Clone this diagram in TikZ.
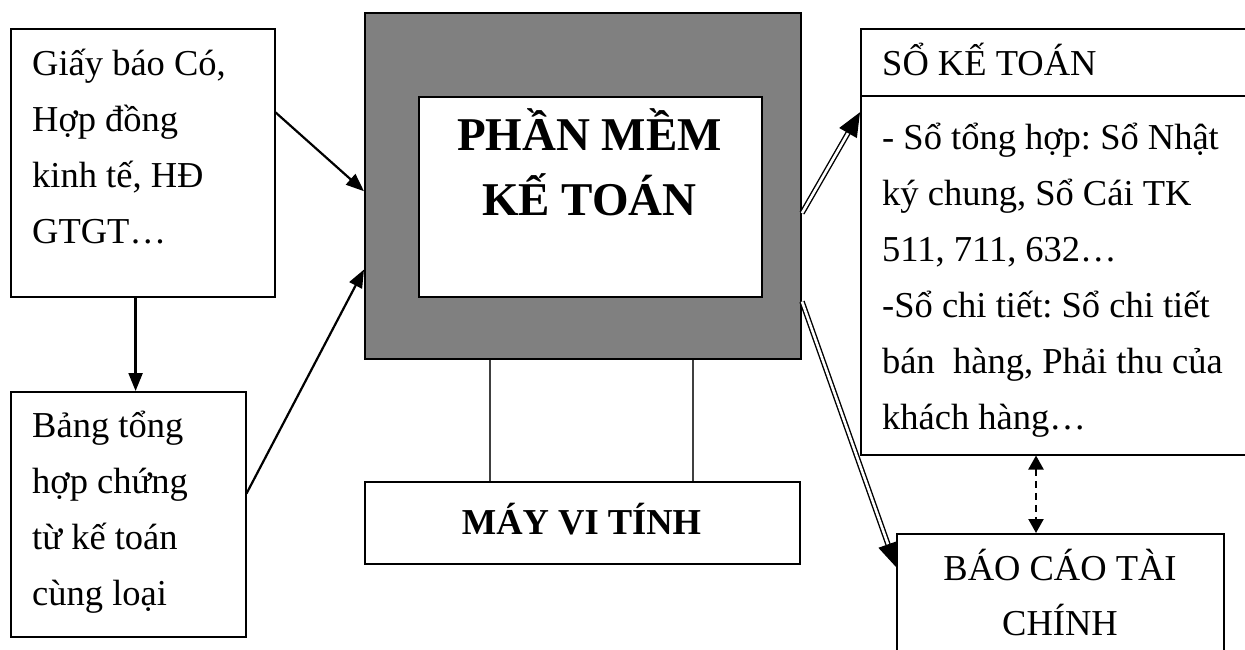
\documentclass[tikz,border=0pt]{standalone}
\usepackage{fontspec}
\setmainfont{Liberation Serif}
\usetikzlibrary{arrows.meta,calc}
\definecolor{boxgray}{HTML}{808080}
\definecolor{linegray}{HTML}{404040}
\frenchspacing
\begin{document}
\begin{tikzpicture}[x=1pt,y=-1pt,
  box/.style={draw=black,line width=1.5pt,rectangle,inner sep=0pt,anchor=north west},
  body/.style={font=\fontsize{36.5}{56}\selectfont,align=left,inner sep=0pt,anchor=base west},
  ctext/.style={font=\fontsize{36.5}{55}\selectfont,align=center,inner sep=0pt,anchor=base},
  arr/.style={line width=2.2pt,-{Triangle[length=18pt,width=14pt]}},
  dbl/.style={line width=1.4pt,double,double distance=2.6pt,-{Triangle[length=24pt,width=20pt]}},
  dasharr/.style={line width=2.2pt,dash pattern=on 7pt off 5pt,{Triangle[length=14pt,width=15pt]}-{Triangle[length=14pt,width=15pt]}},
  conn/.style={draw=linegray,line width=1.2pt},
]
\useasboundingbox (0,0) rectangle (1245,649);
\fill[white] (0,0) rectangle (1245,649);
\begin{scope}
\clip (0,0) rectangle (1245,649);
% left boxes
\node[box,minimum width=264pt,minimum height=268pt] (boxA) at (10,28) {};
\node[body] (textA) at (32,243) {Giấy báo Có,\\Hợp đồng\\kinh tế, HĐ\\GTGT…};
\node[box,minimum width=235pt,minimum height=245pt] (boxB) at (10,391) {};
\node[body] (textB) at (32,605) {Bảng tổng\\hợp chứng\\từ kế toán\\cùng loại};
% central software box
\node[box,fill=boxgray,line width=2pt,minimum width=436pt,minimum height=346pt] (gray) at (364,12) {};
\node[box,fill=white,line width=2pt,minimum width=343pt,minimum height=200pt] (soft) at (418,96) {};
\node[font=\bfseries\fontsize{47}{65}\selectfont,align=center,inner sep=0pt,anchor=base] (title) at (589.5,215) {PHẦN MỀM\\KẾ TOÁN};
% computer box
\node[box,minimum width=435pt,minimum height=82pt] (may) at (364,481) {};
\node[font=\bfseries\fontsize{36.5}{44}\selectfont,inner sep=0pt,anchor=base] (mayt) at (581.5,534) {MÁY VI TÍNH};
% ledger box
\node[box,minimum width=400pt,minimum height=426pt] (so) at (860,28) {};
\draw[line width=1.5pt] ($(so.north west)+(0,68)$) -- ($(so.north east)+(0,68)$);
\node[body] (soh) at (882,75) {SỔ KẾ TOÁN};
\node[body] (sob) at (882,429) {- Sổ tổng hợp: Sổ Nhật\\ký chung, Sổ Cái TK\\511, 711, 632…\\-Sổ chi tiết: Sổ chi tiết\\bán~ hàng, Phải thu của\\khách hàng…};
% report box
\node[box,minimum width=327pt,minimum height=200pt] (bao) at (896,533) {};
\node[ctext] (baot) at (1060,635) {BÁO CÁO TÀI\\CHÍNH};
% connectors
\draw[arr] ($(boxA.north east)!0.313!(boxA.south east)$) -- ($(gray.north west)!0.515!(gray.south west)$);
\coordinate (aS) at ($(boxA.south west)!0.473!(boxA.south east)$);
\draw[arr] (aS) -- (aS |- boxB.north);
\draw[arr] ($(boxB.north east)!0.416!(boxB.south east)$) -- ($(gray.north west)!0.74!(gray.south west)$);
\coordinate (l1) at ($(gray.south west)+(126,0)$);
\coordinate (l2) at ($(gray.south west)+(329,0)$);
\draw[conn] (l1) -- (l1 |- may.north);
\draw[conn] (l2) -- (l2 |- may.north);
\draw[dbl] ($(gray.north east)!0.578!(gray.south east)$) -- ($(so.north west)!0.197!(so.south west)$);
\draw[dbl] ($(gray.north east)!0.832!(gray.south east)$) -- ($(bao.north west)+(0,34)$);
\coordinate (dT) at ($(bao.north west)+(140,0)$);
\draw[dasharr] (dT |- so.south) -- (dT);
\end{scope}
\end{tikzpicture}
\end{document}
